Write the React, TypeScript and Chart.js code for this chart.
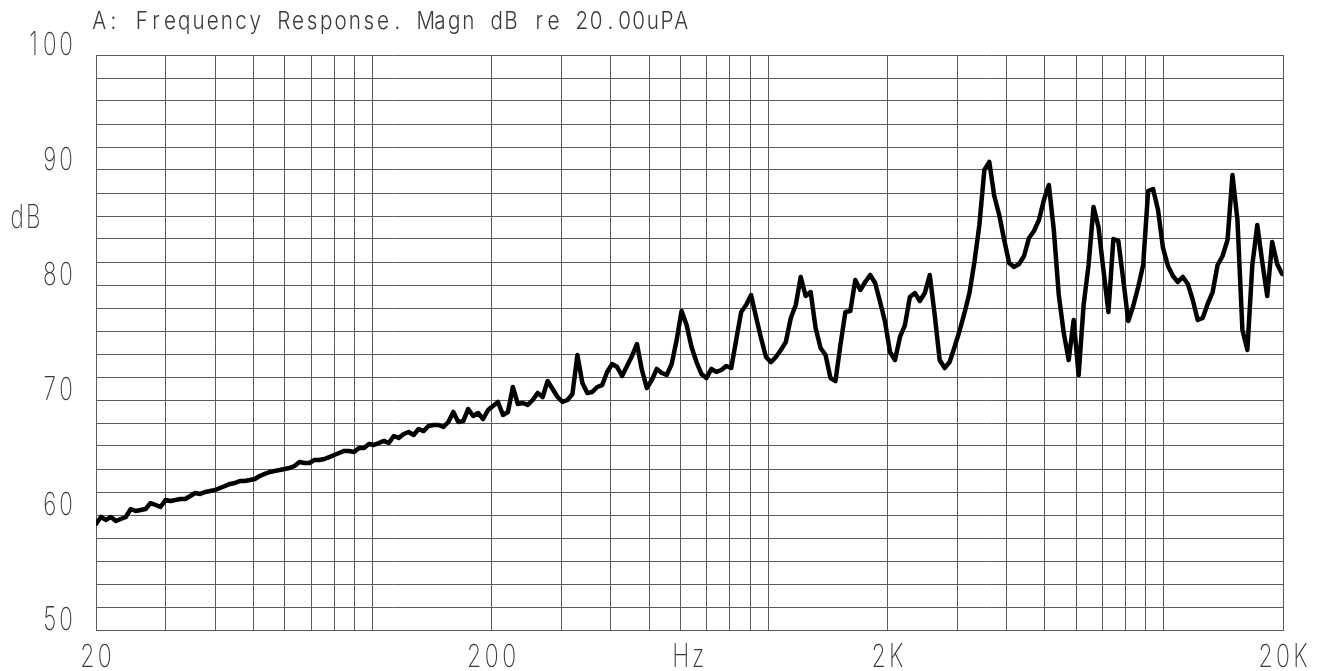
import React, { useEffect, useRef } from 'react';
import { Chart, registerables } from 'chart.js';

Chart.register(...registerables);

// ---- data -------------------------------------------------------------
// Analyzer readout on a 1/24-octave frequency grid starting at 20 Hz.
const START_FREQ_HZ = 20;
const POINTS_PER_OCTAVE = 24;

const LEVEL_DB = [
  59.22, 59.83, 59.57, 59.83, 59.48, 59.65, 59.83, 60.52, 60.35, 60.44,
  60.52, 61.04, 60.87, 60.70, 61.30, 61.22, 61.30, 61.39, 61.39, 61.65,
  61.91, 61.83, 62.00, 62.09, 62.17, 62.35, 62.52, 62.70, 62.78, 62.96,
  62.96, 63.04, 63.13, 63.39, 63.57, 63.74, 63.83, 63.91, 64.00, 64.09,
  64.26, 64.61, 64.52, 64.52, 64.78, 64.78, 64.87, 65.04, 65.22, 65.39,
  65.57, 65.57, 65.48, 65.83, 65.83, 66.17, 66.09, 66.26, 66.44, 66.26,
  66.87, 66.70, 67.04, 67.22, 66.96, 67.48, 67.30, 67.74, 67.83, 67.83,
  67.65, 68.09, 68.96, 68.09, 68.17, 69.22, 68.61, 68.87, 68.35, 69.13,
  69.48, 69.83, 68.70, 68.96, 71.13, 69.65, 69.74, 69.57, 70.00, 70.61,
  70.26, 71.65, 70.96, 70.26, 69.83, 70.00, 70.52, 73.91, 71.48, 70.61,
  70.70, 71.13, 71.30, 72.44, 73.13, 72.87, 72.09, 72.96, 73.83, 74.87,
  72.61, 71.04, 71.74, 72.70, 72.35, 72.17, 73.13, 75.22, 77.74, 76.52,
  74.61, 73.30, 72.26, 71.91, 72.70, 72.44, 72.61, 72.96, 72.78, 75.22,
  77.65, 78.26, 79.13, 77.22, 75.39, 73.74, 73.30, 73.74, 74.35, 75.04,
  77.13, 78.26, 80.70, 79.04, 79.39, 76.26, 74.52, 73.91, 71.91, 71.65,
  74.78, 77.65, 77.74, 80.44, 79.57, 80.26, 80.87, 80.17, 78.52, 76.78,
  74.17, 73.48, 75.48, 76.52, 78.96, 79.30, 78.61, 79.30, 80.87, 77.39,
  73.48, 72.78, 73.30, 74.61, 76.00, 77.57, 79.30, 82.00, 85.22, 90.00,
  90.70, 87.74, 86.09, 83.91, 81.91, 81.57, 81.83, 82.52, 84.09, 84.70,
  85.65, 87.39, 88.70, 84.78, 79.13, 75.83, 73.48, 76.96, 72.17, 78.26,
  81.74, 86.78, 85.04, 81.30, 77.65, 84.00, 83.83, 80.44, 76.87, 78.17,
  79.83, 81.74, 88.17, 88.35, 86.52, 83.22, 81.65, 80.78, 80.26, 80.70,
  80.09, 78.70, 76.96, 77.13, 78.35, 79.39, 81.74, 82.52, 83.91, 89.57,
  85.65, 76.09, 74.35, 81.74, 85.22, 82.00, 79.04, 83.74, 81.83, 80.96,
];

const X_MIN_HZ = 20;
const X_MAX_HZ = 20000;
const X_GRID_HZ = [
  20, 30, 40, 50, 60, 70, 80, 90,
  100, 200, 300, 400, 500, 600, 700, 800, 900,
  1000, 2000, 3000, 4000, 5000, 6000, 7000, 8000, 9000,
  10000, 20000,
];
const X_LABEL_HZ = [20, 200, 2000, 20000];
const X_LABELS = ['20', '200', '2K', '20K'];
const X_UNIT_HZ = 632.5;
const X_UNIT = 'Hz';

const Y_MIN_DB = 50;
const Y_MAX_DB = 100;
const Y_GRID_STEP_DB = 2;
const Y_LABEL_DB = [100, 90, 80, 70, 60, 50];
const Y_UNIT_DB = 85;
const Y_UNIT = 'dB';

const TITLE = 'A: Frequency Response. Magn dB re 20.00uPA';

// ---- style ------------------------------------------------------------
const W = 1325;
const H = 671;
const FONT_FAMILY = "Inter, 'DejaVu Sans', sans-serif";
const TEXT_COLOR = '#3a3a3a';
const GRID_COLOR = '#5c5c5c';

// Monospaced "plotter" text: each glyph centred in a fixed-width cell.
function drawMono(
  ctx: CanvasRenderingContext2D,
  text: string,
  x: number,
  baseline: number,
  advance: number,
  sx: number,
  align: 'left' | 'center' | 'right',
) {
  const total = advance * text.length;
  let start = x;
  if (align === 'center') start = x - total / 2;
  if (align === 'right') start = x - total;
  ctx.save();
  ctx.textAlign = 'center';
  ctx.textBaseline = 'alphabetic';
  for (let i = 0; i < text.length; i++) {
    const cx = start + advance * (i + 0.5);
    ctx.save();
    ctx.translate(cx, baseline);
    ctx.scale(sx, 1);
    ctx.fillText(text[i], 0, 0);
    ctx.restore();
  }
  ctx.restore();
}

const plotterText = {
  id: 'plotterText',
  afterDraw(chart: any) {
    const { ctx, chartArea, scales } = chart;
    const xs = scales.x;
    const ys = scales.y;
    ctx.save();
    ctx.fillStyle = TEXT_COLOR;

    ctx.font = `200 32px ${FONT_FAMILY}`;
    Y_LABEL_DB.forEach((v) => {
      drawMono(ctx, String(v), 74, ys.getPixelForValue(v), 16.2, 0.7, 'right');
    });
    drawMono(ctx, Y_UNIT, 9, ys.getPixelForValue(Y_UNIT_DB), 16.2, 0.7, 'left');

    const xBase = chartArea.bottom + 37;
    X_LABEL_HZ.forEach((v, i) => {
      drawMono(ctx, X_LABELS[i], xs.getPixelForValue(v), xBase, 17.5, 0.72, 'center');
    });
    drawMono(ctx, X_UNIT, xs.getPixelForValue(X_UNIT_HZ), xBase, 17.5, 0.72, 'center');

    ctx.font = `300 24px ${FONT_FAMILY}`;
    drawMono(ctx, TITLE, chartArea.left - 4, 29, 14.2, 0.86, 'left');
    ctx.restore();
  },
};

export default function App() {
  const ref = useRef<HTMLCanvasElement | null>(null);

  useEffect(() => {
    if (!ref.current) return;
    const points = LEVEL_DB.map((db, i) => ({
      x: START_FREQ_HZ * Math.pow(2, i / POINTS_PER_OCTAVE),
      y: db,
    }));
    const chart = new Chart(ref.current, {
      type: 'line',
      data: {
        datasets: [
          {
            data: points,
            borderColor: '#000000',
            borderWidth: 4.5,
            pointRadius: 0,
            tension: 0,
            borderJoinStyle: 'round',
            borderCapStyle: 'round',
            fill: false,
          },
        ],
      },
      options: {
        responsive: false,
        animation: false,
        events: [],
        layout: { padding: { left: 0, right: 42, top: 55, bottom: 0 } },
        plugins: {
          legend: { display: false },
          tooltip: { enabled: false },
          title: { display: false },
        },
        scales: {
          x: {
            type: 'logarithmic',
            min: X_MIN_HZ,
            max: X_MAX_HZ,
            afterBuildTicks: (s: any) => {
              s.ticks = X_GRID_HZ.map((v) => ({ value: v }));
            },
            afterFit: (s: any) => {
              s.height = 41;
            },
            ticks: { display: false, autoSkip: false },
            grid: { color: GRID_COLOR, lineWidth: 1, drawTicks: false },
            border: { display: true, color: GRID_COLOR, width: 1 },
          },
          y: {
            type: 'linear',
            min: Y_MIN_DB,
            max: Y_MAX_DB,
            ticks: { display: false, stepSize: Y_GRID_STEP_DB },
            afterFit: (s: any) => {
              s.width = 96;
            },
            grid: { color: GRID_COLOR, lineWidth: 1, drawTicks: false },
            border: { display: true, color: GRID_COLOR, width: 1 },
          },
        },
      },
      plugins: [plotterText],
    });
    return () => chart.destroy();
  }, []);

  return (
    <div
      style={{
        position: 'fixed',
        left: 0,
        top: 0,
        width: W,
        height: H,
        background: '#ffffff',
      }}
    >
      <canvas ref={ref} width={W} height={H} style={{ display: 'block' }} />
    </div>
  );
}
